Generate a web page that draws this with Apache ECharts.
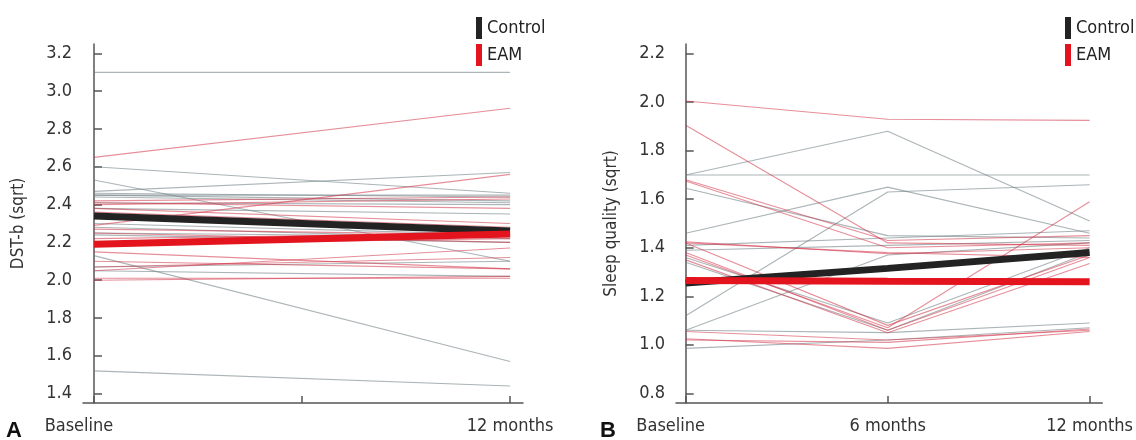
<!DOCTYPE html>
<html>
<head>
<meta charset="utf-8">
<script src="https://cdn.jsdelivr.net/npm/echarts@6/dist/echarts.min.js"></script>
<style>
html,body{margin:0;padding:0;background:#fff;}
#chart{width:1136px;height:440px;}
</style>
</head>
<body>
<div id="chart"></div>
<script>
// ---------- DATA ----------
var catsA = ['Baseline', '12 months'];
var catsB = ['Baseline', '6 months', '12 months'];
var yTicksA = [1.4, 1.6, 1.8, 2.0, 2.2, 2.4, 2.6, 2.8, 3.0, 3.2];
var yTicksB = [0.8, 1.0, 1.2, 1.4, 1.6, 1.8, 2.0, 2.2];
var groups = ['Control', 'EAM'];

// Panel A: DST-b (sqrt), [Baseline, 12 months]
var dstControl = [
  [3.10, 3.10], [2.60, 2.46], [2.53, 2.10], [2.47, 2.57], [2.46, 2.44],
  [2.45, 2.45], [2.45, 2.42], [2.44, 2.41], [2.41, 2.40], [2.38, 2.35],
  [2.30, 2.24], [2.28, 2.22], [2.25, 2.23], [2.24, 2.20], [2.13, 1.57],
  [2.07, 2.10], [2.05, 2.02], [1.52, 1.44]
];
var dstEAM = [
  [2.65, 2.91], [2.42, 2.44], [2.41, 2.38], [2.40, 2.43], [2.38, 2.30],
  [2.36, 2.28], [2.29, 2.56], [2.27, 2.24], [2.25, 2.20], [2.22, 2.25],
  [2.20, 2.25], [2.19, 2.22], [2.10, 2.06], [2.07, 2.12], [2.05, 2.17],
  [2.15, 2.06], [2.01, 2.01], [2.00, 2.02]
];
var dstMeanControl = [2.34, 2.26];
var dstMeanEAM = [2.19, 2.245];

// Panel B: Sleep quality (sqrt), [Baseline, 6 months, 12 months]
var sleepControl = [
  [1.70, 1.88, 1.51], [1.70, 1.70, 1.70], [1.46, 1.65, 1.46], [1.12, 1.63, 1.66],
  [1.645, 1.45, 1.44], [1.39, 1.41, 1.43], [1.36, 1.09, 1.40], [1.06, 1.37, 1.42],
  [1.06, 1.05, 1.09], [0.985, 1.02, 1.07], [1.34, 1.06, 1.38], [1.41, 1.44, 1.47]
];
var sleepEAM = [
  [2.005, 1.93, 1.925], [1.905, 1.42, 1.41], [1.68, 1.43, 1.45], [1.675, 1.40, 1.42],
  [1.425, 1.375, 1.40], [1.42, 1.38, 1.36], [1.38, 1.06, 1.36], [1.37, 1.07, 1.59],
  [1.35, 1.05, 1.335], [1.055, 1.02, 1.06], [1.025, 0.985, 1.055], [1.02, 1.01, 1.065],
  [1.42, 1.08, 1.37]
];
var sleepMeanControl = [1.255, 1.315, 1.38];
var sleepMeanEAM = [1.265, 1.262, 1.26];

// ---------- STYLE ----------
var FONT = '"DejaVu Sans Condensed", "Liberation Sans Narrow", sans-serif';
var FS = 18;
var GRAY = 'rgba(115,130,135,0.6)';
var RED = 'rgba(210,50,70,0.55)';
var BLACK = '#232323';
var BRED = '#e3141e';

function pts(vals) { return vals.map(function (v, i) { return [i, v]; }); }

var series = [];
function addThin(list, color, idx) {
  list.forEach(function (vals) {
    series.push({
      type: 'line', xAxisIndex: idx, yAxisIndex: idx, data: pts(vals),
      showSymbol: false, silent: true, animation: false,
      lineStyle: { color: color, width: 1.1 }, z: 2
    });
  });
}
function addMean(name, vals, color, width, idx, z) {
  series.push({
    name: name, type: 'line', xAxisIndex: idx, yAxisIndex: idx, data: pts(vals),
    showSymbol: false, silent: true, animation: false, color: color,
    lineStyle: { color: color, width: width }, z: z
  });
}
addThin(dstControl, GRAY, 0);
addThin(dstEAM, RED, 0);
addMean(groups[0], dstMeanControl, BLACK, 7, 0, 5);
addMean(groups[1], dstMeanEAM, BRED, 7, 0, 6);
addThin(sleepControl, GRAY, 1);
addThin(sleepEAM, RED, 1);
addMean(groups[0], sleepMeanControl, BLACK, 7, 1, 5);
addMean(groups[1], sleepMeanEAM, BRED, 7, 1, 6);

function xAxis(cats, idx, min, max, ticks) {
  return {
    type: 'value', gridIndex: idx, min: min, max: max,
    axisLine: { show: true, onZero: false, lineStyle: { color: '#555', width: 1.5 } },
    axisTick: { show: true, inside: true, length: 7, customValues: ticks, lineStyle: { color: '#555', width: 1.5 } },
    axisLabel: {
      customValues: cats.map(function (c, i) { return i; }),
      formatter: function (v) {
        var i = Math.round(v);
        return i === 0 ? '{s|' + cats[0] + '}' : cats[i];
      },
      color: '#333', fontSize: FS, fontFamily: FONT, margin: 14,
      rich: { s: { padding: [0, 30, 0, 0], fontSize: FS, fontFamily: FONT, color: '#333' } }
    },
    splitLine: { show: false }
  };
}
function yAxis(name, idx, min, max, ticks) {
  return {
    type: 'value', gridIndex: idx, min: min, max: max,
    name: name, nameLocation: 'middle', nameGap: 56,
    nameTextStyle: { fontSize: 17, fontFamily: FONT, color: '#333' },
    axisLine: { show: true, lineStyle: { color: '#555', width: 1.5 } },
    axisTick: { show: true, inside: true, length: 8, customValues: ticks, lineStyle: { color: '#555', width: 1.5 } },
    axisLabel: {
      customValues: ticks,
      formatter: function (v) { return v.toFixed(1); },
      color: '#333', fontSize: FS, fontFamily: FONT, margin: 11
    },
    splitLine: { show: false }
  };
}

var legendCommon = {
  orient: 'vertical', icon: 'rect', itemWidth: 6, itemHeight: 22, itemGap: 5,
  textStyle: { fontSize: FS, fontFamily: FONT, color: '#222' },
  selectedMode: false, data: groups
};

var option = {
  backgroundColor: '#fff',
  animation: false,
  grid: [
    { left: 83, top: 44, width: 440, height: 359 },
    { left: 676, top: 44, width: 439, height: 359 }
  ],
  xAxis: [
    xAxis(catsA, 0, -0.0264, 1.031, [0, 0.5, 1]),
    xAxis(catsB, 1, -0.048, 2.0625, [0, 1, 2])
  ],
  yAxis: [
    yAxis('DST-b (sqrt)', 0, 1.35, 3.25, yTicksA),
    yAxis('Sleep quality (sqrt)', 1, 0.76, 2.24, yTicksB)
  ],
  legend: [
    Object.assign({ left: 471, top: 12 }, legendCommon),
    Object.assign({ left: 1060, top: 12 }, legendCommon)
  ],
  graphic: [
    { type: 'text', left: 6, top: 420, style: { text: 'A', fontSize: 22, fontWeight: 'bold', fontFamily: '"Liberation Sans", sans-serif', fill: '#111' } },
    { type: 'text', left: 600, top: 420, style: { text: 'B', fontSize: 22, fontWeight: 'bold', fontFamily: '"Liberation Sans", sans-serif', fill: '#111' } }
  ],
  series: series
};

var chart = echarts.init(document.getElementById('chart'), null, { renderer: 'canvas' });
chart.setOption(option);
</script>
</body>
</html>
